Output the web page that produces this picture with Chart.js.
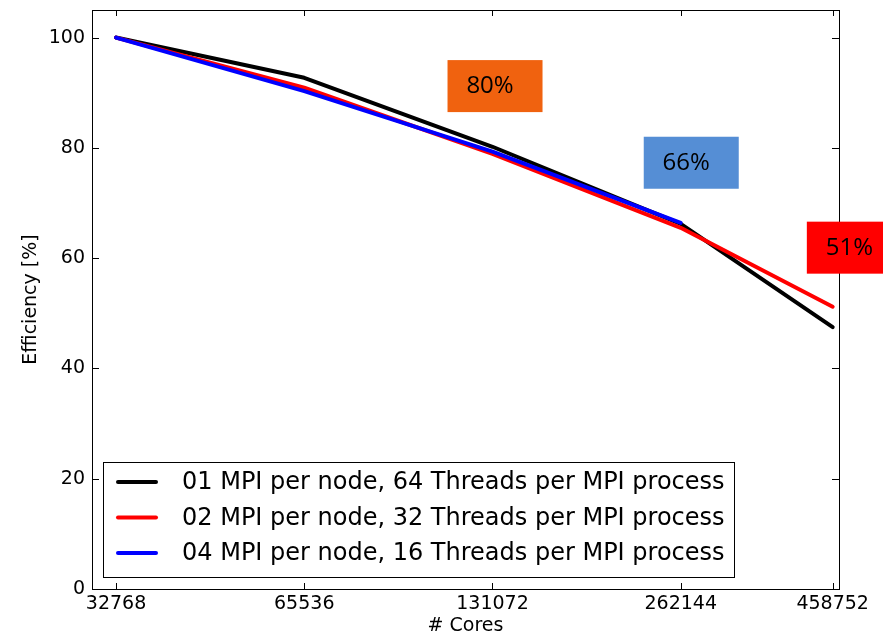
<!DOCTYPE html>
<html>
<head>
<meta charset="utf-8">
<script src="https://cdn.jsdelivr.net/npm/chart.js@4/dist/chart.umd.min.js"></script>
<style>
html, body { margin: 0; padding: 0; background: #fff; }
#wrap { width: 883px; height: 637px; position: relative; }
</style>
</head>
<body>
<div id="wrap"><canvas id="chart"></canvas></div>
<script>
// # cores (log2 spaced x axis)
const cores = [32768, 65536, 131072, 262144, 458752];
const xTicks = [32768, 65536, 131072, 262144, 458752];
const yTicks = [0, 20, 40, 60, 80, 100];

// efficiency [%]
const mpi01 = [100, 92.7, 80.2, 66.2, 47.5];
const mpi02 = [100, 90.9, 78.9, 65.5, 51.2];
const mpi04 = [100, 90.3, 79.3, 66.4];

const seriesNames = [
  '01 MPI per node, 64 Threads per MPI process',
  '02 MPI per node, 32 Threads per MPI process',
  '04 MPI per node, 16 Threads per MPI process'
];
const boxLabels = ['80%', '66%', '51%'];

function pts(vals) {
  return vals.map((v, i) => ({ x: cores[i], y: v }));
}

Chart.defaults.font.family = 'DejaVu Sans';
Chart.defaults.color = '#000';

// frame, inward ticks, percentage boxes and legend box
const decor = {
  id: 'decor',
  afterDatasetsDraw(chart, args, opts) {
    const { ctx, chartArea: a, scales: { x, y } } = chart;
    ctx.save();
    ctx.strokeStyle = '#000';
    ctx.lineWidth = 1;
    ctx.strokeRect(Math.round(a.left) + 0.5, Math.round(a.top) + 0.5,
      Math.round(a.right - a.left), Math.round(a.bottom - a.top));
    ctx.beginPath();
    xTicks.forEach(v => {
      const px = Math.round(x.getPixelForValue(v)) + 0.5;
      ctx.moveTo(px, a.bottom); ctx.lineTo(px, a.bottom - 6);
      ctx.moveTo(px, a.top); ctx.lineTo(px, a.top + 6);
    });
    yTicks.forEach(v => {
      const py = Math.round(y.getPixelForValue(v)) + 0.5;
      ctx.moveTo(a.left, py); ctx.lineTo(a.left + 7, py);
      ctx.moveTo(a.right, py); ctx.lineTo(a.right - 7, py);
    });
    ctx.stroke();

    // coloured percentage boxes
    ctx.font = '24px "Open Sans"';
    ctx.textAlign = 'center';
    ctx.textBaseline = 'middle';
    opts.boxes.forEach((b, i) => {
      const cx = x.getPixelForValue(b.x);
      const cy = y.getPixelForValue(b.y);
      ctx.fillStyle = b.color;
      ctx.fillRect(cx - 47.5, cy - 26, 95, 52);
      ctx.fillStyle = '#000';
      ctx.fillText(boxLabels[i], cx - 5, cy);
    });

    // legend
    const lx = a.left + 11, ly = a.bottom - 127, lw = 631, lh = 115;
    ctx.fillStyle = '#fff';
    ctx.fillRect(lx, ly, lw, lh);
    ctx.strokeStyle = '#000';
    ctx.lineWidth = 1;
    ctx.strokeRect(lx + 0.5, ly + 0.5, lw, lh);
    ctx.font = '24px "DejaVu Sans"';
    ctx.textAlign = 'left';
    chart.data.datasets.forEach((ds, i) => {
      const ry = ly + 20 + i * 35.5;
      ctx.strokeStyle = ds.borderColor;
      ctx.lineWidth = 4;
      ctx.lineCap = 'round';
      ctx.beginPath();
      ctx.moveTo(lx + 15, ry); ctx.lineTo(lx + 53, ry);
      ctx.stroke();
      ctx.fillStyle = '#000';
      ctx.fillText(ds.label, lx + 79, ry + 1);
    });
    ctx.restore();
  }
};

new Chart(document.getElementById('chart'), {
  type: 'line',
  data: {
    datasets: [
      { label: seriesNames[0], data: pts(mpi01), borderColor: '#000000', order: 3 },
      { label: seriesNames[1], data: pts(mpi02), borderColor: '#ff0000', order: 2 },
      { label: seriesNames[2], data: pts(mpi04), borderColor: '#0000ff', order: 1 }
    ]
  },
  options: {
    responsive: true,
    maintainAspectRatio: false,
    animation: false,
    layout: { padding: { left: 0, top: 10, right: 44, bottom: 0 } },
    elements: {
      line: { borderWidth: 4, tension: 0, borderCapStyle: 'round', borderJoinStyle: 'round', fill: false },
      point: { radius: 0 }
    },
    plugins: {
      legend: { display: false },
      tooltip: { enabled: false },
      decor: {
        boxes: [
          { x: 132300, y: 91.2, color: '#f0620f' },
          { x: 272500, y: 77.3, color: '#558ed5' },
          { x: 496800, y: 61.9, color: '#ff0000' }
        ]
      }
    },
    scales: {
      x: {
        type: 'logarithmic',
        min: 29994,
        max: 469530,
        grid: { display: false, drawTicks: false },
        border: { display: false },
        afterBuildTicks: s => { s.ticks = xTicks.map(v => ({ value: v })); },
        afterFit: s => { s.height = 48; s.paddingLeft = 0; s.paddingRight = 0; },
        ticks: { padding: 4, maxRotation: 0, autoSkip: false, font: { size: 19 }, callback: v => String(v) },
        title: { display: true, text: '# Cores', font: { size: 19 }, padding: { top: 0, bottom: 0 } }
      },
      y: {
        min: 0,
        max: 105,
        grid: { display: false, drawTicks: false },
        border: { display: false },
        afterBuildTicks: s => { s.ticks = yTicks.map(v => ({ value: v })); },
        afterFit: s => { s.width = 92; s.paddingTop = 0; s.paddingBottom = 0; },
        ticks: { padding: 7, font: { size: 19 } },
        title: { display: true, text: 'Efficiency [%]', font: { size: 19 }, padding: { top: 20, bottom: 0 } }
      }
    }
  },
  plugins: [decor]
});
</script>
</body>
</html>
